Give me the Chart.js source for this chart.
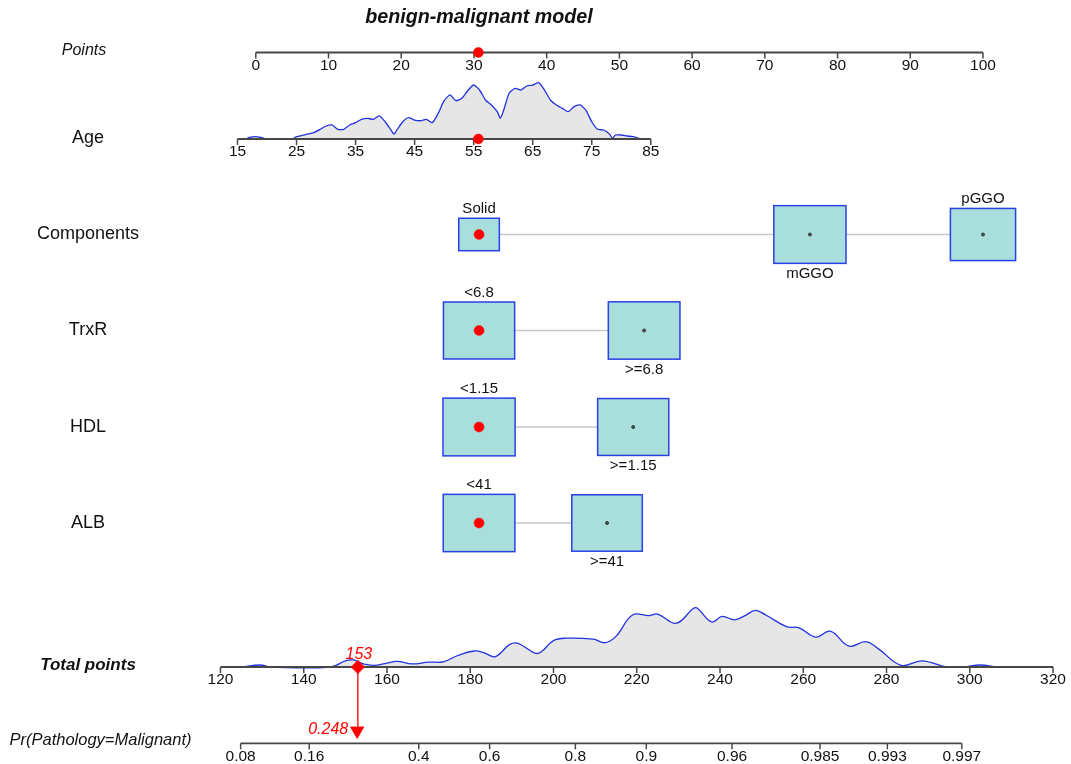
<!DOCTYPE html>
<html><head><meta charset="utf-8">
<script src="https://cdn.jsdelivr.net/npm/chart.js@4.4.1/dist/chart.umd.min.js"></script>
<style>html,body{margin:0;padding:0;background:#fff;overflow:hidden}canvas{display:block}</style>
</head><body>
<canvas id="c" width="1071" height="764"></canvas>
<script>
// ---------------- DATA ----------------
const titleText = 'benign-malignant model';
const pointsTicks = [0,10,20,30,40,50,60,70,80,90,100];
const ageTicks = [15,25,35,45,55,65,75,85];
const ageGrid = [16.5,17,18,19,20,24,24.5,25,26,27,28,29,30,31,32,33,34,35,36,37,38,39,40,41,41.5,42,43,44,45,46,47,48,49,50,51,52,53,54,55,56,57,58,59,59.5,60,61,62,63,64,65,66,67,68,69,70,71,72,73,74,75,76,77,78,78.5,79,80,81,82,83,83.5];
const ageDensity = [0,2.7,4.1,2.7,0,0,1.2,4.1,6.6,8.9,11.9,17.2,23.1,24.9,17.2,17.2,24.9,29,35,36.8,35,40.9,30.7,16,8.9,16,30.7,37.8,33.7,32.5,35,29,45.6,68,78.2,68,72.3,85.8,95.9,87,69.3,60.4,48.5,36.8,48.5,81.2,90,87,94.1,95.9,100,87,69.3,60.4,54.5,48.5,57.4,60.4,51.5,30.7,17.2,16,8.9,1.2,7.1,7.1,5.3,4.1,1.2,0];
const componentsCats = ['Solid','mGGO','pGGO'];
const componentsPoints = [30.7,76.2,100];
const componentsShare = [0.155,0.49,0.40];
const trxrCats = ['<6.8','>=6.8'];
const trxrPoints = [30.7,53.4];
const trxrShare = [0.477,0.483];
const hdlCats = ['<1.15','>=1.15'];
const hdlPoints = [30.7,51.9];
const hdlShare = [0.49,0.476];
const albCats = ['<41','>=41'];
const albPoints = [30.7,48.3];
const albShare = [0.483,0.468];
const totalTicks = [120,140,160,180,200,220,240,260,280,300,320];
const totalGrid = [125,129.5,132,146.5,150,152,154.5,157,159.5,162.5,166,170,173.5,177,181,183.5,186,189.5,191.5,195.5,197,200,203,209.5,212.5,215,219,223,225,229.5,233.5,234.5,238,240.5,243.5,246,248.5,251,256,259,263,266.5,271,275,278,283.5,288.5,294.5,298.5,302.5,306.5];
const totalDensity = [0,3.4,0,0,10.5,11.9,4.7,2.9,5.9,9.5,5.3,8.3,8.8,19.5,27.1,23.6,17.6,38.3,40,23.6,25.3,44.7,48.8,47.1,41.2,51.9,88.1,87.1,89.8,74.2,98.8,100,76.3,85.9,80,87.1,95.9,88.1,68.3,66.4,50.7,60.7,35.3,42.9,31.2,2.9,10.5,0,0,3.4,0];
const probTicks = [0.08,0.16,0.4,0.6,0.8,0.9,0.96,0.985,0.993,0.997];
const probTickLabels = ['0.08','0.16','0.4','0.6','0.8','0.9','0.96','0.985','0.993','0.997'];
// observation
const obsAge = 55.8;
const obsCategory = {Components:'Solid', TrxR:'<6.8', HDL:'<1.15', ALB:'<41'};
const obsTotal = 153;
const obsProb = 0.248;
const AGE_PTS0 = -2.517, AGE_SLOPE = 0.8119;   // points at age 15, points per year
const TOT_PTS0 = -4.854, TOT_SLOPE = 0.5724;   // points at total 120, per total unit
const LOGIT_A = -8.386, LOGIT_B = 0.04761;     // logit(p) = A + B*total

// ---------------- LAYOUT / STYLE ----------------
const W = 1071, H = 764;
const PX0 = 255.8, PXPT = 7.272;  // pixel of 0 points, pixels per point
const ROW = {points:52.5, age:139, comp:234.5, trxr:330.5, hdl:427, alb:523, total:667, prob:743.3};
const AGE_H = 56.3, TOT_H = 59;
const BOX_K = 8500, BOX_ASPECT = 1.25;
const FONT = '"Liberation Sans", Arial, Helvetica, sans-serif';
const AXIS_COL = '#474747', DENS_LINE = '#2233dd', DENS_FILL = '#e6e6e6';
const BOX_FILL = '#a8dedb', BOX_LINE = '#2b3fe6', CONN = '#c9c9c9', RED = '#ff0000';

const ageToPts = a => AGE_PTS0 + (a - 15) * AGE_SLOPE;
const totToPts = t => TOT_PTS0 + (t - 120) * TOT_SLOPE;
const probToTot = p => (Math.log(p / (1 - p)) - LOGIT_A) / LOGIT_B;
const probToPts = p => totToPts(probToTot(p));

const catRows = [
  {name:'Components', y:ROW.comp, cats:componentsCats, points:componentsPoints, share:componentsShare},
  {name:'TrxR', y:ROW.trxr, cats:trxrCats, points:trxrPoints, share:trxrShare},
  {name:'HDL', y:ROW.hdl, cats:hdlCats, points:hdlPoints, share:hdlShare},
  {name:'ALB', y:ROW.alb, cats:albCats, points:albPoints, share:albShare}
];

// ---------------- DATASETS ----------------
const ds = [];
function lineDs(data, color, width, order, extra) {
  return Object.assign({type:'line', data, borderColor:color, borderWidth:width, pointRadius:0, fill:false, order, tension:0}, extra||{});
}
// densities
ds.push(lineDs(ageGrid.map((a,i)=>({x:ageToPts(a), y:ROW.age - ageDensity[i]/100*AGE_H})), DENS_LINE, 1.3, 20,
  {fill:{value:ROW.age}, backgroundColor:DENS_FILL, tension:0.2}));
ds.push(lineDs(totalGrid.map((t,i)=>({x:totToPts(t), y:ROW.total - totalDensity[i]/100*TOT_H})), DENS_LINE, 1.3, 20,
  {fill:{value:ROW.total}, backgroundColor:DENS_FILL, tension:0.4}));
// axis lines
const axes = [
  {y:ROW.points, ticks:pointsTicks.map(v=>v)},
  {y:ROW.age, ticks:ageTicks.map(ageToPts)},
  {y:ROW.total, ticks:totalTicks.map(totToPts)},
  {y:ROW.prob, ticks:probTicks.map(probToPts)}
];
axes.forEach(a => {
  ds.push(lineDs([{x:a.ticks[0], y:a.y},{x:a.ticks[a.ticks.length-1], y:a.y}], AXIS_COL, 1.8, 10));
  ds.push({type:'line', showLine:false, data:a.ticks.map(x=>({x, y:a.y+3})), pointStyle:'line', rotation:90,
    pointRadius:3, pointBorderColor:AXIS_COL, pointBorderWidth:1.5, order:10});
});
// red projection line
const obsTotPts = totToPts(obsTotal);
ds.push(lineDs([{x:obsTotPts, y:ROW.total},{x:obsTotPts, y:728}], RED, 1.3, 4));
// markers: red dots
const redDots = [{x:ageToPts(obsAge), y:ROW.points},{x:ageToPts(obsAge), y:ROW.age}];
const smallDots = [];
catRows.forEach(r => r.cats.forEach((c,i) => {
  if (obsCategory[r.name] === c) redDots.push({x:r.points[i], y:r.y});
  else smallDots.push({x:r.points[i], y:r.y});
}));
ds.push({type:'line', showLine:false, data:redDots, pointRadius:5, pointBackgroundColor:RED, pointBorderColor:RED, pointBorderWidth:0.5, order:1});
ds.push({type:'line', showLine:false, data:smallDots, pointRadius:1.5, pointBackgroundColor:'#555', pointBorderColor:'#222', pointBorderWidth:0.8, order:1});
ds.push({type:'line', showLine:false, data:[{x:obsTotPts, y:ROW.total}], pointStyle:'rectRot', pointRadius:6.5, pointBackgroundColor:RED, pointBorderColor:RED, pointBorderWidth:1, order:1});
ds.push({type:'line', showLine:false, data:[{x:probToPts(obsProb), y:730.8}], pointStyle:'triangle', rotation:180, pointRadius:7.5, pointBackgroundColor:RED, pointBorderColor:RED, pointBorderWidth:1, order:1});

// ---------------- PLUGIN ----------------
function boxGeom(chart, r) {
  const xs = chart.scales.x, ys = chart.scales.y;
  return r.points.map((p,i) => {
    const A = r.share[i]*BOX_K;
    return {cx:xs.getPixelForValue(p), cy:ys.getPixelForValue(r.y), w:Math.sqrt(A*BOX_ASPECT), h:Math.sqrt(A/BOX_ASPECT)};
  });
}
function txt(ctx, s, x, y, font, color, align) {
  ctx.font = font; ctx.fillStyle = color || '#111'; ctx.textAlign = align || 'center'; ctx.textBaseline = 'middle';
  ctx.fillText(s, x, y);
}
const nomo = {
  id:'nomo',
  beforeDraw(chart) {
    const ctx = chart.ctx; ctx.save(); ctx.fillStyle = '#fff'; ctx.fillRect(0,0,chart.width,chart.height); ctx.restore();
  },
  beforeDatasetsDraw(chart) {
    const ctx = chart.ctx;
    ctx.save();
    catRows.forEach(r => {
      const b = boxGeom(chart, r);
      ctx.strokeStyle = CONN; ctx.lineWidth = 1.6;
      for (let i=0;i<b.length-1;i++) {
        ctx.beginPath(); ctx.moveTo(b[i].cx + b[i].w/2, b[i].cy); ctx.lineTo(b[i+1].cx - b[i+1].w/2, b[i+1].cy); ctx.stroke();
      }
      b.forEach(g => {
        ctx.fillStyle = BOX_FILL; ctx.fillRect(g.cx-g.w/2, g.cy-g.h/2, g.w, g.h);
        ctx.strokeStyle = BOX_LINE; ctx.lineWidth = 1.5; ctx.strokeRect(g.cx-g.w/2, g.cy-g.h/2, g.w, g.h);
      });
    });
    ctx.restore();
  },
  afterDatasetsDraw(chart) {
    const ctx = chart.ctx, xs = chart.scales.x, ys = chart.scales.y;
    ctx.save();
    txt(ctx, titleText, 479, 18, 'italic bold 19.7px '+FONT);
    txt(ctx, 'Points', 84, 51, 'italic 16px '+FONT);
    txt(ctx, 'Age', 88, 138, '18px '+FONT);
    catRows.forEach(r => txt(ctx, r.name, 88, r.y, '18px '+FONT));
    txt(ctx, 'Total points', 88, 665, 'italic bold 17px '+FONT);
    txt(ctx, 'Pr(Pathology=Malignant)', 100.5, 740, 'italic 16.5px '+FONT);
    const tf = '15.5px '+FONT;
    pointsTicks.forEach(v => txt(ctx, String(v), xs.getPixelForValue(v), ys.getPixelForValue(ROW.points)+13, tf));
    ageTicks.forEach(v => txt(ctx, String(v), xs.getPixelForValue(ageToPts(v)), ys.getPixelForValue(ROW.age)+13, tf));
    totalTicks.forEach(v => txt(ctx, String(v), xs.getPixelForValue(totToPts(v)), ys.getPixelForValue(ROW.total)+13, tf));
    probTicks.forEach((v,i) => txt(ctx, probTickLabels[i], xs.getPixelForValue(probToPts(v)), ys.getPixelForValue(ROW.prob)+13, tf));
    catRows.forEach(r => {
      const b = boxGeom(chart, r);
      b.forEach((g,i) => {
        const y = i % 2 === 0 ? g.cy - g.h/2 - 9.5 : g.cy + g.h/2 + 10.5;
        txt(ctx, r.cats[i], g.cx, y, '15px '+FONT);
      });
    });
    txt(ctx, String(Math.round(obsTotal)), xs.getPixelForValue(obsTotPts)+1, 655, 'italic 16px '+FONT, RED);
    txt(ctx, String(obsProb), xs.getPixelForValue(probToPts(obsProb)) - 9, 730, 'italic 16px '+FONT, RED, 'right');
    ctx.restore();
  }
};

new Chart(document.getElementById('c'), {
  type:'line',
  data:{datasets:ds},
  options:{
    responsive:false, maintainAspectRatio:false, animation:false, devicePixelRatio:1, events:[],
    layout:{padding:0, autoPadding:false},
    plugins:{legend:{display:false}, tooltip:{enabled:false}, title:{display:false}},
    scales:{
      x:{type:'linear', display:false, min:-PX0/PXPT, max:(W-PX0)/PXPT},
      y:{type:'linear', display:false, min:0, max:H, reverse:true}
    }
  },
  plugins:[nomo]
});
</script>
</body></html>
